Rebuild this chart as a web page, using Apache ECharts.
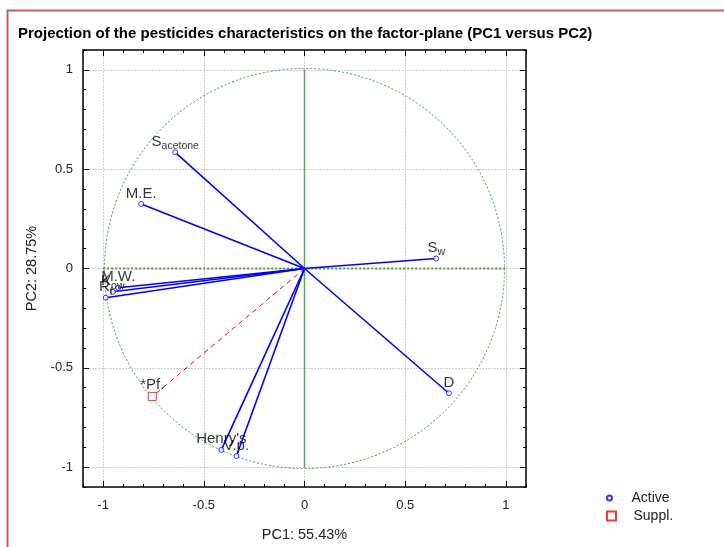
<!DOCTYPE html>
<html>
<head>
<meta charset="utf-8" />
<title>PCA factor-plane</title>
<script src="https://cdn.jsdelivr.net/npm/echarts@6/dist/echarts.min.js"></script>
<style>
  html, body { margin: 0; padding: 0; background: #fff; }
  #chart { width: 724px; height: 547px; }
</style>
</head>
<body>
<div id="chart"></div>
<script>
// active variables (loadings on PC1 / PC2)
const activeNames = ['S_acetone', 'M.E.', 'S_w', 'D', 'M.W.', 'K_ow', 'R_f', "Henry's", 'V.p.'];
const activePC1 = [-0.642, -0.811, 0.654, 0.717, -0.925, -0.952, -0.987, -0.413, -0.338];
const activePC2 = [0.585, 0.325, 0.050, -0.628, -0.097, -0.117, -0.147, -0.913, -0.944];
// supplementary variable
const supplNames = ['*Pf.'];
const supplPC1 = [-0.756];
const supplPC2 = [-0.645];
// axis ticks
const majorTicks = [-1, -0.5, 0, 0.5, 1];
const axisMin = -1.1;
const axisMax = 1.1;

const FONT = 'Liberation Sans, Arial, sans-serif';

// "S_w" -> S with subscript w
function richName(n) {
  const i = n.indexOf('_');
  if (i < 0) return '{m|' + n + '}';
  return '{m|' + n.slice(0, i) + '}{s|' + n.slice(i + 1) + '}';
}

const pointLabel = {
  show: true,
  position: 'top',
  distance: -2,
  color: '#000',
  formatter: p => richName(p.data[2]),
  rich: {
    m: { fontSize: 15, fontFamily: FONT, color: '#000', lineHeight: 14, padding: [0, 0, 5, 0] },
    s: { fontSize: 10.5, fontFamily: FONT, color: '#000', lineHeight: 9, padding: [3.5, 0, 0, 0], verticalAlign: 'top' }
  }
};

function axisPair(dim, pos) {
  const isX = dim === 'x';
  const minor = {
    type: 'value', position: pos, min: axisMin, max: axisMax, interval: 0.1,
    axisLine: { show: true, onZero: false, lineStyle: { color: '#000', width: 1.5 } },
    axisTick: { show: true, inside: true, length: 3, lineStyle: { color: '#000' } },
    axisLabel: { show: false },
    splitLine: { show: false }
  };
  const major = {
    type: 'value', position: pos, min: axisMin, max: axisMax,
    axisLine: { show: false, onZero: false },
    axisTick: { show: true, inside: true, length: 6, customValues: majorTicks, lineStyle: { color: '#000' } },
    axisLabel: { show: false },
    splitLine: { show: false }
  };
  if (pos === 'bottom' || pos === 'left') {
    major.axisLabel = {
      show: true, customValues: majorTicks, margin: isX ? 12 : 10,
      fontSize: 13, fontFamily: FONT, color: '#222',
      formatter: v => String(v)
    };
    major.splitLine = { show: true, lineStyle: { color: '#cfcfcf', type: [2, 1], width: 1 } };
    major.name = isX ? 'PC1: 55.43%' : 'PC2: 28.75%';
    major.nameLocation = 'middle';
    major.nameGap = isX ? 40 : 44;
    major.nameTextStyle = { fontSize: 14.5, fontFamily: FONT, color: '#222' };
  }
  return [major, minor];
}

const chart = echarts.init(document.getElementById('chart'));

const option = {
  backgroundColor: '#fff',
  animation: false,
  title: {
    text: 'Projection of the pesticides characteristics on the factor-plane (PC1 versus PC2)',
    left: 13, top: 21,
    textStyle: { fontSize: 15, fontWeight: 'bold', fontFamily: FONT, color: '#000' }
  },
  graphic: [{
    type: 'rect', left: 5, top: 8, silent: true,
    shape: { width: 740, height: 560 },
    style: { fill: 'none', stroke: '#c85a5a', lineWidth: 2 }
  }],
  legend: [{
    data: ['Active'], orient: 'vertical', left: 601, top: 486,
    itemWidth: 34, itemHeight: 5, icon: 'circle',
    textStyle: { fontSize: 14, fontFamily: FONT, color: '#222' }
  }, {
    data: ['Suppl.'], orient: 'vertical', left: 601, top: 504,
    itemWidth: 34, itemHeight: 9, icon: 'path://M0,0L10,0L10,10L0,10Z',
    textStyle: { fontSize: 14, fontFamily: FONT, color: '#222' }
  }],
  grid: { left: 83, right: 198, top: 50, bottom: 57 },
  xAxis: [...axisPair('x', 'bottom'), ...axisPair('x', 'top')],
  yAxis: [...axisPair('y', 'left'), ...axisPair('y', 'right')],
  series: [
    {
      // unit circle and origin axes
      type: 'custom', name: 'ref', silent: true, clip: false, z: 1,
      data: [[0, 0]],
      renderItem: function (params, api) {
        const c = api.coord([0, 0]);
        const s = api.size([1, 1]);
        const top = api.coord([0, 1]), bot = api.coord([0, -1]);
        const lft = api.coord([-1, 0]), rgt = api.coord([1, 0]);
        return {
          type: 'group',
          children: [
            { type: 'line', shape: { x1: top[0], y1: top[1], x2: bot[0], y2: bot[1] },
              style: { stroke: '#5aa55a', lineWidth: 1.5 } },
            { type: 'line', shape: { x1: lft[0], y1: lft[1], x2: rgt[0], y2: rgt[1] },
              style: { stroke: '#3c9c3c', lineWidth: 2, lineDash: [2, 2] } },
            { type: 'circle', shape: { cx: c[0], cy: c[1], r: (s[0] + s[1]) / 2 },
              style: { fill: 'none', stroke: '#3c9c3c', lineWidth: 1, lineDash: [2, 2] } }
          ]
        };
      }
    },
    {
      type: 'lines', name: 'activeVec', coordinateSystem: 'cartesian2d', silent: true, z: 3,
      lineStyle: { color: '#0000ff', width: 1.6, opacity: 1 },
      data: activePC1.map((x, i) => ({ coords: [[0, 0], [x, activePC2[i]]] }))
    },
    {
      type: 'lines', name: 'supplVec', coordinateSystem: 'cartesian2d', silent: true, z: 3,
      lineStyle: { color: '#ff0000', width: 1, type: [5, 4], opacity: 1 },
      data: supplPC1.map((x, i) => ({ coords: [[0, 0], [x, supplPC2[i]]] }))
    },
    {
      type: 'scatter', name: 'Active', z: 4,
      symbol: 'circle', symbolSize: 5,
      itemStyle: { color: '#fff', borderColor: '#0000ff', borderWidth: 1 },
      label: pointLabel,
      data: activePC1.map((x, i) => [x, activePC2[i], activeNames[i]])
    },
    {
      type: 'scatter', name: 'Suppl.', z: 4,
      symbol: 'rect', symbolSize: 8,
      itemStyle: { color: '#fff', borderColor: '#ff0000', borderWidth: 1 },
      label: pointLabel,
      data: supplPC1.map((x, i) => [x, supplPC2[i], supplNames[i]])
    }
  ]
};

chart.setOption(option);
</script>
</body>
</html>
